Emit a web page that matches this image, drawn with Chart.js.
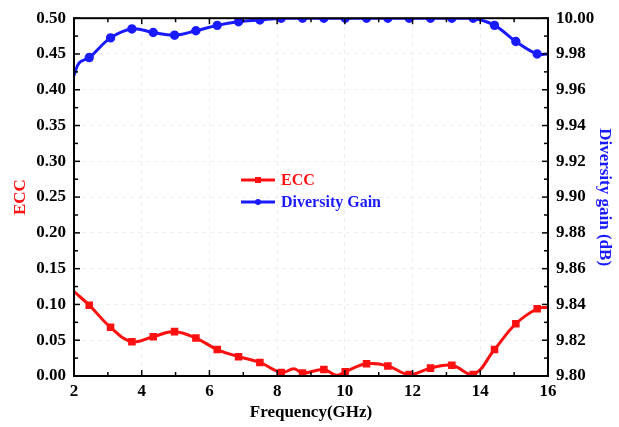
<!DOCTYPE html>
<html>
<head>
<meta charset="utf-8">
<script src="https://cdn.jsdelivr.net/npm/chart.js@4.4.0/dist/chart.umd.min.js"></script>
<style>
  body { margin: 0; background: #fff; }
</style>
</head>
<body>
<canvas id="chart" width="619" height="427"></canvas>
<script>
// values
const eccFreq = [2, 2.45, 3.08, 3.71, 4.34, 4.97, 5.6, 6.23, 6.86, 7.49, 8.12, 8.5, 8.75, 9.38, 9.75, 10.01, 10.64, 11.27, 11.9, 12.53, 13.16, 13.79, 14.42, 15.05, 15.68, 16];
const eccValues = [0.118, 0.099, 0.068, 0.048, 0.055, 0.062, 0.053, 0.037, 0.027, 0.019, 0.005, 0.010, 0.004, 0.009, 0.001, 0.006, 0.017, 0.014, 0.002, 0.011, 0.015, 0.002, 0.037, 0.073, 0.094, 0.096];

const dgFreq = [2, 2.15, 2.45, 3.08, 3.71, 4.34, 4.97, 5.6, 6.23, 6.86, 7.49, 8.12, 8.75, 9.38, 10.01, 10.64, 11.27, 11.9, 12.53, 13.16, 13.79, 14.42, 15.05, 15.68, 16];
const dgValues = [9.968, 9.975, 9.978, 9.989, 9.994, 9.992, 9.9905, 9.993, 9.996, 9.998, 9.999, 10.0, 10.0, 10.0, 10.0, 10.0, 10.0, 10.0, 10.0, 10.0, 10.0, 9.996, 9.987, 9.980, 9.980];

// points that are on the curve but carry no marker
const unmarked = [2, 2.15, 8.5, 9.75, 16];

const xTicks = [2, 4, 6, 8, 10, 12, 14, 16];

const RED = '#ff1010';
const BLUE = '#1a1aff';
const FONT = 'Liberation Serif';

function toPoints(xs, ys) {
    return xs.map((x, i) => ({ x: x, y: ys[i] }));
}

function markerRadius(ctx) {
    return unmarked.includes(ctx.raw.x) ? 0 : 3.2;
}

// box round the plot with inward ticks on every side
const framePlugin = {
    id: 'frame',
    afterDatasetsDraw(chart) {
        const { ctx, chartArea: a, scales } = chart;
        ctx.save();
        ctx.strokeStyle = '#000';
        ctx.lineWidth = 2;
        ctx.strokeRect(a.left, a.top, a.right - a.left, a.bottom - a.top);

        ctx.lineWidth = 1.5;
        const line = (x1, y1, x2, y2) => {
            ctx.beginPath();
            ctx.moveTo(x1, y1);
            ctx.lineTo(x2, y2);
            ctx.stroke();
        };
        for (let f = 2; f <= 16; f++) {
            const x = scales.x.getPixelForValue(f);
            const len = f % 2 === 0 ? 6 : 4;
            line(x, a.bottom, x, a.bottom - len);
            line(x, a.top, x, a.top + len);
        }
        for (let i = 0; i <= 20; i++) {
            const len = i % 2 === 0 ? 6 : 4;
            const yl = scales.y.getPixelForValue(i * 0.025);
            line(a.left, yl, a.left + len, yl);
            const yr = scales.y2.getPixelForValue(9.8 + i * 0.01);
            line(a.right, yr, a.right - len, yr);
        }
        ctx.restore();
    }
};

// legend sitting inside the plot
const legendPlugin = {
    id: 'innerLegend',
    afterDraw(chart) {
        const ctx = chart.ctx;
        const x0 = 241, y0 = 180, gap = 22;
        ctx.save();
        ctx.font = 'bold 16px "' + FONT + '"';
        ctx.textBaseline = 'middle';
        chart.data.datasets.forEach((ds, i) => {
            const y = y0 + i * gap;
            ctx.strokeStyle = ds.borderColor;
            ctx.fillStyle = ds.borderColor;
            ctx.lineWidth = 3;
            ctx.beginPath();
            ctx.moveTo(x0, y);
            ctx.lineTo(x0 + 34, y);
            ctx.stroke();
            if (ds.pointStyle === 'rect') {
                ctx.fillRect(x0 + 14, y - 3, 6, 6);
            } else {
                ctx.beginPath();
                ctx.arc(x0 + 17, y, 3, 0, Math.PI * 2);
                ctx.fill();
            }
            ctx.fillText(ds.label, x0 + 40, y + 1);
        });
        ctx.restore();
    }
};

const tickFont = { family: FONT, size: 17, weight: 'bold' };

new Chart(document.getElementById('chart').getContext('2d'), {
    type: 'line',
    data: {
        datasets: [
            {
                label: 'ECC',
                data: toPoints(eccFreq, eccValues),
                yAxisID: 'y',
                borderColor: RED,
                backgroundColor: RED,
                borderWidth: 3,
                pointStyle: 'rect',
                pointRadius: markerRadius,
                tension: 0.4
            },
            {
                label: 'Diversity Gain',
                data: toPoints(dgFreq, dgValues),
                yAxisID: 'y2',
                borderColor: BLUE,
                backgroundColor: BLUE,
                borderWidth: 3,
                pointStyle: 'circle',
                pointRadius: markerRadius,
                tension: 0.4
            }
        ]
    },
    options: {
        responsive: false,
        animation: false,
        layout: { padding: { top: 13, left: 0, right: 0, bottom: 0 } },
        plugins: {
            legend: { display: false },
            tooltip: { enabled: false }
        },
        scales: {
            x: {
                type: 'linear',
                min: 2,
                max: 16,
                afterBuildTicks: (scale) => { scale.ticks = xTicks.map(v => ({ value: v })); },
                afterFit: (scale) => { scale.height = 51; },
                ticks: { color: '#000', font: tickFont, padding: 5, maxRotation: 0 },
                grid: { color: '#efefef', drawTicks: false },
                border: { display: false, dash: [4, 4] },
                title: { display: true, text: 'Frequency(GHz)', color: '#000', font: tickFont, padding: { top: 0, bottom: 4 } }
            },
            y: {
                position: 'left',
                min: 0,
                max: 0.5,
                afterFit: (scale) => { scale.width = 74; },
                ticks: { stepSize: 0.05, color: '#000', font: tickFont, padding: 8, callback: v => v.toFixed(2) },
                grid: { color: '#efefef', drawTicks: false },
                border: { display: false, dash: [4, 4] },
                title: { display: true, text: 'ECC', color: RED, font: tickFont, padding: { top: 10, bottom: 0 } }
            },
            y2: {
                position: 'right',
                min: 9.8,
                max: 10,
                afterFit: (scale) => { scale.width = 71; },
                ticks: { stepSize: 0.02, color: '#000', font: tickFont, padding: 8, callback: v => v.toFixed(2) },
                grid: { drawOnChartArea: false, drawTicks: false },
                border: { display: false },
                title: { display: true, text: 'Diversity gain (dB)', color: BLUE, font: tickFont, padding: { top: 4, bottom: 0 } }
            }
        }
    },
    plugins: [framePlugin, legendPlugin]
});
</script>
</body>
</html>
